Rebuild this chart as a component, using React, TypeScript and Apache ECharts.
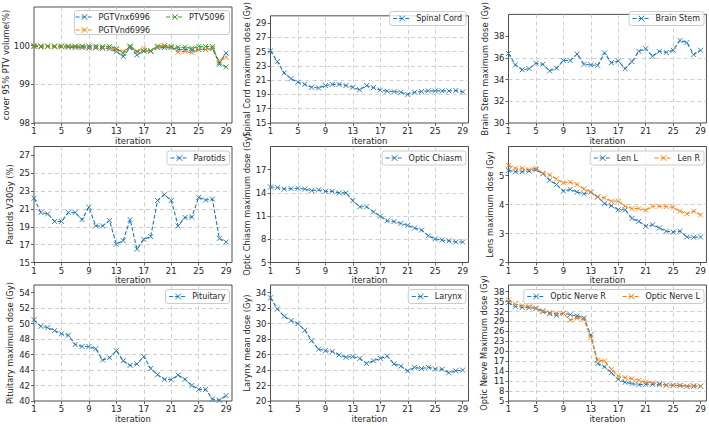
import React, { useEffect, useRef } from 'react';
import * as echarts from 'echarts';

const iterations = [1, 2, 3, 4, 5, 6, 7, 8, 9, 10, 11, 12, 13, 14, 15, 16, 17, 18, 19, 20, 21, 22, 23, 24, 25, 26, 27, 28, 29];
const xTicks = [1, 5, 9, 13, 17, 21, 25, 29];

const pgtvnx6996 = [99.98, 99.97, 99.98, 99.97, 99.97, 99.96, 99.95, 99.95, 99.94, 99.94, 99.93, 99.92, 99.85, 99.72, 99.95, 99.76, 99.86, 99.86, 99.95, 99.95, 99.95, 99.9, 99.9, 99.88, 99.9, 99.9, 99.92, 99.56, 99.81];
const pgtvnd6996 = [99.99, 99.98, 99.98, 99.98, 99.98, 99.98, 99.97, 99.97, 99.96, 99.96, 99.95, 99.94, 99.9, 99.85, 99.98, 99.84, 99.93, 99.85, 99.96, 99.99, 99.95, 99.83, 99.85, 99.82, 99.9, 99.9, 99.94, 99.6, 99.7];
const ptv5096 = [100.0, 99.99, 99.99, 99.99, 99.99, 99.99, 99.99, 99.99, 99.99, 99.99, 99.98, 99.98, 99.93, 99.8, 99.99, 99.85, 99.86, 99.87, 99.99, 100.0, 99.98, 99.96, 99.96, 99.93, 99.98, 99.98, 99.98, 99.52, 99.45];
const coverTicks = [98, 99, 100];

const spinalCord = [25.1, 23.6, 22.0, 21.2, 20.7, 20.4, 20.0, 19.9, 20.25, 20.4, 20.4, 20.25, 20.0, 19.65, 20.25, 19.95, 19.6, 19.45, 19.4, 19.3, 19.0, 19.3, 19.4, 19.5, 19.5, 19.5, 19.5, 19.55, 19.35];
const spinalTicks = [15, 17, 19, 21, 23, 25, 27, 29];

const brainStem = [36.4, 35.35, 34.9, 35.0, 35.5, 35.4, 34.8, 35.05, 35.75, 35.75, 36.35, 35.4, 35.35, 35.3, 36.45, 35.55, 35.7, 35.0, 35.65, 36.6, 36.85, 36.15, 36.6, 36.5, 36.7, 37.6, 37.4, 36.3, 36.7];
const brainTicks = [30, 32, 34, 36, 38];

const parotids = [22.2, 20.6, 20.45, 19.6, 19.6, 20.6, 20.6, 19.8, 21.2, 19.1, 19.1, 19.7, 17.05, 17.45, 19.8, 16.5, 17.6, 17.9, 21.95, 22.6, 21.95, 19.1, 20.05, 20.1, 22.3, 22.0, 22.1, 17.7, 17.3];
const parotidTicks = [15, 17, 19, 21, 23, 25, 27];

const opticChiasm = [14.76, 14.7, 14.5, 14.55, 14.6, 14.5, 14.3, 14.4, 14.2, 14.2, 14.0, 14.0, 13.0, 12.2, 12.2, 11.55, 11.0, 10.4, 10.3, 10.05, 9.8, 9.45, 9.2, 8.45, 8.05, 7.9, 7.8, 7.65, 7.65];
const chiasmTicks = [5, 8, 11, 14, 17];

const lenL = [5.18, 5.13, 5.13, 5.15, 5.2, 5.06, 4.84, 4.69, 4.46, 4.52, 4.43, 4.37, 4.42, 4.26, 4.03, 3.96, 3.82, 3.82, 3.52, 3.42, 3.25, 3.3, 3.19, 3.08, 3.05, 3.08, 2.88, 2.87, 2.88];
const lenR = [5.35, 5.25, 5.25, 5.2, 5.25, 5.07, 5.02, 4.88, 4.75, 4.77, 4.69, 4.54, 4.43, 4.26, 4.23, 4.11, 4.12, 3.94, 3.86, 3.86, 3.81, 3.94, 3.94, 3.93, 3.9, 3.77, 3.68, 3.77, 3.64];
const lensTicks = [2, 3, 4, 5];

const pituitary = [50.5, 49.65, 49.5, 49.1, 48.7, 48.5, 47.3, 47.05, 47.05, 46.75, 45.3, 45.6, 46.5, 45.2, 44.6, 44.8, 45.75, 44.2, 43.4, 42.8, 42.75, 43.35, 42.8, 42.0, 41.5, 41.5, 40.25, 40.1, 40.7];
const pituitaryTicks = [40, 42, 44, 46, 48, 50, 52, 54];

const larynx = [33.35, 31.9, 30.95, 30.4, 30.0, 29.15, 27.8, 26.7, 26.5, 26.4, 25.95, 25.65, 25.75, 25.5, 24.85, 25.2, 25.5, 25.8, 24.8, 24.5, 23.9, 24.35, 24.2, 24.35, 24.15, 24.1, 23.65, 23.9, 24.0];
const larynxTicks = [20, 22, 24, 26, 28, 30, 32, 34];

const opticNerveR = [34.7, 33.5, 33.25, 33.15, 32.95, 31.95, 31.35, 30.85, 31.45, 31.05, 30.65, 30.1, 24.9, 16.3, 15.3, 13.5, 11.55, 10.65, 10.25, 9.95, 10.05, 10.05, 9.95, 9.85, 9.75, 9.65, 9.45, 9.45, 9.45];
const opticNerveL = [35.5, 34.2, 33.8, 33.5, 32.95, 32.25, 31.65, 31.45, 31.45, 29.4, 30.0, 29.6, 24.15, 17.3, 17.1, 14.5, 12.6, 12.05, 11.75, 11.25, 10.75, 10.45, 10.25, 9.75, 9.75, 9.75, 9.45, 9.65, 9.45];
const nerveTicks = [5, 8, 11, 14, 17, 20, 23, 26, 29, 32, 35, 38];

const BLUE = '#1f77b4';
const ORANGE = '#ff7f0e';
const GREEN = '#2ca02c';
const FONT = 'DejaVu Sans';
const TEXT = '#262626';
const AXIS = '#3a3a3a';

const GRID_LEFTS = [34, 270.5, 508.5];
const GRID_TOPS = [7, 146.5, 285];
const GW = 198;
const GH = 116;
const W = 709;
const H = 426;

type S = { name: string; data: number[]; color: string };
type P = { yName: string; yMin: number; yMax: number; yStep: number; yTicks: number[]; nameGap: number; series: S[] };

const panels: P[] = [
  { yName: 'cover 95% PTV volume(%)', yMin: 98, yMax: 101, yStep: 1, yTicks: coverTicks, nameGap: 23,
    series: [{ name: 'PGTVnx6996', data: pgtvnx6996, color: BLUE }, { name: 'PGTVnd6996', data: pgtvnd6996, color: ORANGE }, { name: 'PTV5096', data: ptv5096, color: GREEN }] },
  { yName: 'Spinal Cord maximum dose (Gy)', yMin: 15, yMax: 30, yStep: 2, yTicks: spinalTicks, nameGap: 20,
    series: [{ name: 'Spinal Cord', data: spinalCord, color: BLUE }] },
  { yName: 'Brain Stem maximum dose (Gy)', yMin: 30, yMax: 40, yStep: 2, yTicks: brainTicks, nameGap: 20,
    series: [{ name: 'Brain Stem', data: brainStem, color: BLUE }] },
  { yName: 'Parotids V30Gy (%)', yMin: 15, yMax: 28, yStep: 2, yTicks: parotidTicks, nameGap: 20,
    series: [{ name: 'Parotids', data: parotids, color: BLUE }] },
  { yName: 'Optic Chiasm maximum dose (Gy)', yMin: 5, yMax: 20, yStep: 3, yTicks: chiasmTicks, nameGap: 20,
    series: [{ name: 'Optic Chiasm', data: opticChiasm, color: BLUE }] },
  { yName: 'Lens maximum dose (Gy)', yMin: 2, yMax: 6, yStep: 1, yTicks: lensTicks, nameGap: 15,
    series: [{ name: 'Len L', data: lenL, color: BLUE }, { name: 'Len R', data: lenR, color: ORANGE }] },
  { yName: 'Pituitary maximum dose (Gy)', yMin: 40, yMax: 55, yStep: 2, yTicks: pituitaryTicks, nameGap: 20,
    series: [{ name: 'Pituitary', data: pituitary, color: BLUE }] },
  { yName: 'Larynx mean dose (Gy)', yMin: 20, yMax: 35, yStep: 2, yTicks: larynxTicks, nameGap: 20,
    series: [{ name: 'Larynx', data: larynx, color: BLUE }] },
  { yName: 'Optic Nerve Maximum dose (Gy)', yMin: 5, yMax: 40, yStep: 3, yTicks: nerveTicks, nameGap: 21,
    series: [{ name: 'Optic Nerve R', data: opticNerveR, color: BLUE }, { name: 'Optic Nerve L', data: opticNerveL, color: ORANGE }] },
];

const XMARK = 'path://M0,0L10,10M10,0L0,10';

function buildOption() {
  const grids: any[] = [];
  const xAxes: any[] = [];
  const yAxes: any[] = [];
  const series: any[] = [];
  const legends: any[] = [];
  const graphics: any[] = [];

  const legendBase = {
    orient: 'horizontal',
    itemWidth: 18,
    itemHeight: 7,
    itemGap: 16,
    padding: [2, 4, 2, 3],
    backgroundColor: 'rgba(255,255,255,0.8)',
    borderColor: '#cccccc',
    borderWidth: 1,
    borderRadius: 2.5,
    selectedMode: false,
    lineStyle: { width: 1.1 },
    itemStyle: { borderWidth: 1 },
    textStyle: { fontFamily: FONT, fontSize: 8, color: TEXT, lineHeight: 10 },
    z: 6,
  };

  panels.forEach((p, i) => {
    const col = i % 3;
    const row = Math.floor(i / 3);
    const left = GRID_LEFTS[col];
    const top = GRID_TOPS[row];
    grids.push({ left, top, width: GW, height: GH, show: true, borderColor: AXIS, borderWidth: 0.9, backgroundColor: 'transparent', containLabel: false });
    xAxes.push({
      type: 'value', gridIndex: i, min: 1, max: 29.85, interval: 4,
      name: 'iteration', nameLocation: 'middle', nameGap: 13,
      nameTextStyle: { fontFamily: FONT, fontSize: 8.5, color: TEXT },
      axisLine: { show: false },
      axisTick: { show: true, length: 3, inside: false, lineStyle: { color: AXIS, width: 0.8 }, customValues: xTicks },
      axisLabel: { fontFamily: FONT, fontSize: 8.5, color: TEXT, margin: 3.5, customValues: xTicks },
      splitLine: { show: true, showMinLine: false, showMaxLine: false, lineStyle: { color: '#c4c4c4', width: 0.8, type: [4, 3] } },
    });
    yAxes.push({
      type: 'value', gridIndex: i, min: p.yMin, max: p.yMax, interval: p.yStep,
      name: p.yName, nameLocation: 'middle', nameGap: p.nameGap,
      nameTextStyle: { fontFamily: FONT, fontSize: 8.3, color: TEXT },
      axisLine: { show: false },
      axisTick: { show: true, length: 3, inside: false, lineStyle: { color: AXIS, width: 0.8 }, customValues: p.yTicks },
      axisLabel: { fontFamily: FONT, fontSize: 8.5, color: TEXT, margin: 4, customValues: p.yTicks },
      splitLine: { show: true, showMinLine: false, showMaxLine: false, lineStyle: { color: '#c4c4c4', width: 0.8, type: [4, 3] } },
    });
    p.series.forEach((s) => {
      series.push({
        type: 'line', name: s.name, xAxisIndex: i, yAxisIndex: i,
        data: iterations.map((it, k) => [it, s.data[k]]),
        symbol: XMARK, symbolSize: 5, showSymbol: true,
        lineStyle: { color: s.color, width: 1.1, type: [4, 2] },
        itemStyle: { color: s.color, borderColor: s.color, borderWidth: 0.9 },
        z: 3,
      });
    });
    if (i === 0) {
      legends.push({ ...legendBase, orient: 'vertical', left: 74, top: 10, itemGap: 3, padding: [2, 2, 2, 1], backgroundColor: 'transparent', borderWidth: 0, data: ['PGTVnx6996', 'PGTVnd6996'] });
      legends.push({ ...legendBase, left: 164.5, top: 10, padding: [2, 2, 2, 1], backgroundColor: 'transparent', borderWidth: 0, data: ['PTV5096'] });
      graphics.push({ type: 'rect', left: 74, top: 10, z: 5, shape: { width: 155, height: 24, r: 2.5 }, style: { fill: 'rgba(255,255,255,0.8)', stroke: '#cccccc', lineWidth: 1 } });
    } else {
      legends.push({ ...legendBase, right: W - (left + GW - 2.5), top: top + 4.5, data: p.series.map((s) => s.name) });
    }
  });

  return {
    animation: false,
    backgroundColor: '#ffffff',
    textStyle: { fontFamily: FONT },
    grid: grids,
    xAxis: xAxes,
    yAxis: yAxes,
    series,
    legend: legends,
    graphic: graphics,
  };
}

export default function App() {
  const ref = useRef<HTMLDivElement>(null);
  useEffect(() => {
    if (!ref.current) return;
    const chart = echarts.init(ref.current, undefined, { renderer: 'svg' });
    chart.setOption(buildOption() as any);
    return () => chart.dispose();
  }, []);
  return <div ref={ref} style={{ position: 'absolute', left: 0, top: 0, width: W, height: H }} />;
}
